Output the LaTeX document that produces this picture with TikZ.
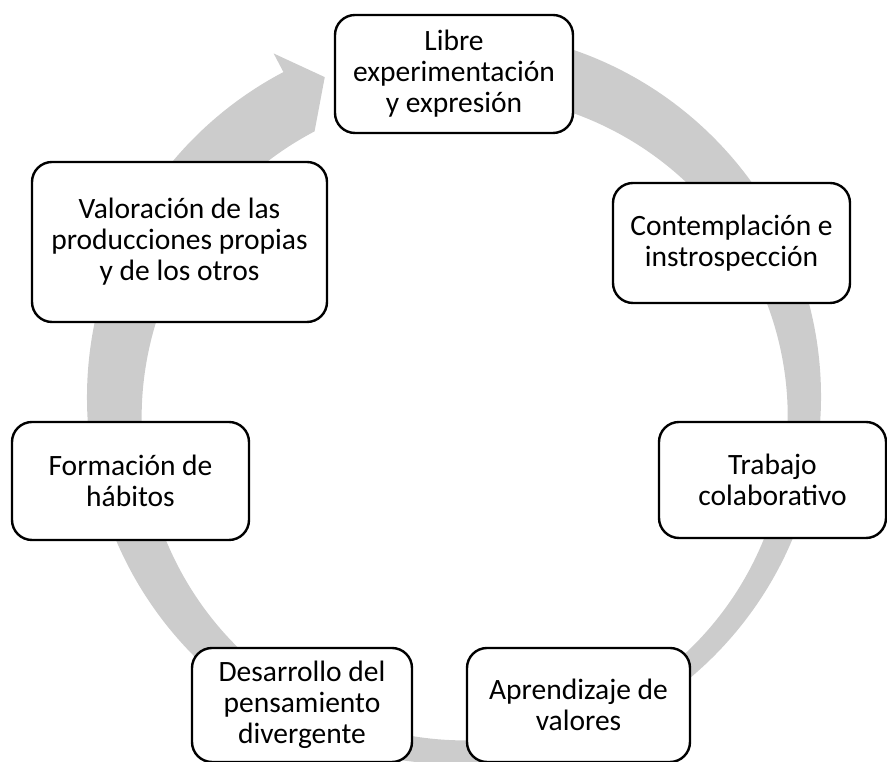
\documentclass[tikz,border=0pt]{standalone}
\usepackage{fontspec}
\setmainfont{Carlito}
\begin{document}
\begin{tikzpicture}[x=1pt,y=1pt,
  stagebox/.style={draw=black,line width=2.4pt,fill=white,rounded corners=20pt,
    align=center,inner sep=0pt,font=\fontsize{29.5}{31}\selectfont},
  ringfill/.style={fill=gray!40,draw=none}]
\useasboundingbox (0,0) rectangle (887,762);
% circular arrow
\begin{scope}[shift={(454pt,365pt)}]
\fill[ringfill] (85:367pt) arc[start angle=85,end angle=-242.3,radius=367pt]
  -- (117.7:388pt) -- (112:345pt) -- (117.7:300pt)
  arc[start angle=-242.3,end angle=85,radius=323pt] -- cycle;
\end{scope}
% stages
\node[stagebox,minimum width=238pt,minimum height=118pt] (libre) at (454,688)
  {Libre\\experimentación\\y expresión};
\node[stagebox,minimum width=237pt,minimum height=120pt] (contem) at (731.5,519)
  {Contemplación e\\instrospección};
\node[stagebox,minimum width=227pt,minimum height=116pt] (trabajo) at (772.5,282)
  {Trabajo\\colaborativo};
\node[stagebox,minimum width=223pt,minimum height=114pt] (aprend) at (578.5,57)
  {Aprendizaje de\\valores};
\node[stagebox,minimum width=220pt,minimum height=114pt] (desarr) at (302,57)
  {Desarrollo del\\pensamiento\\divergente};
\node[stagebox,minimum width=237pt,minimum height=118pt] (formac) at (130.5,281)
  {Formación de\\hábitos};
\node[stagebox,minimum width=295pt,minimum height=160pt] (valora) at (179.5,520)
  {Valoración de las\\producciones propias\\y de los otros};
\end{tikzpicture}
\end{document}
